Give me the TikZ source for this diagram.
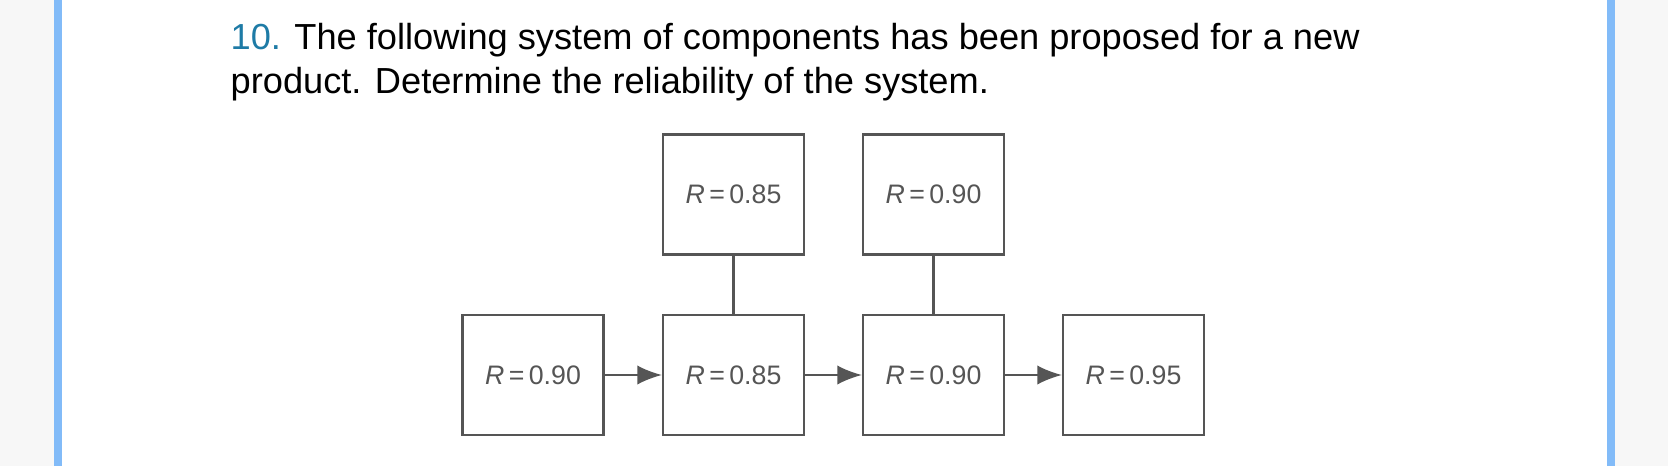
\documentclass[tikz,border=0pt]{standalone}
\usepackage{fontspec}
\setmainfont{Liberation Sans}
\usetikzlibrary{arrows.meta}
\definecolor{barblue}{HTML}{82BBF8}
\definecolor{numblue}{HTML}{1E7BA6}
\definecolor{edge}{HTML}{555555}
\begin{document}
\begin{tikzpicture}[x=0.01cm,y=-0.01cm,
  bx/.style={draw=edge,line width=0.6pt,minimum width=1.41cm,minimum height=1.20cm,inner sep=0pt,font=\fontsize{7.6}{9}\selectfont,text=edge},
  conn/.style={draw=edge,line width=0.6pt},
  arr/.style={conn,-{Latex[length=7pt,width=5.5pt]}},
  title/.style={anchor=base west,inner sep=0pt,font=\fontsize{10.3}{12}\selectfont}]
\fill[white] (0,0) rectangle (1668,466);
\useasboundingbox (0,0) rectangle (1668,466);
\fill[black!3] (0,0) rectangle (54,466);
\fill[black!3] (1615,0) rectangle (1668,466);
\fill[barblue] (54,0) rectangle (62,466);
\fill[barblue] (1607,0) rectangle (1615,466);
\node[title] (l1) at (230,49) {\textcolor{numblue}{10.} The following system of components has been proposed for a new};
\node[title] (l2) at (230,93) {product. Determine the reliability of the system.};
\node[bx] (a) at (533,375) {\textit{R}\,=\,0.90};
\node[bx] (b) at (733.5,375) {\textit{R}\,=\,0.85};
\node[bx] (c) at (933.5,375) {\textit{R}\,=\,0.90};
\node[bx] (d) at (1133.5,375) {\textit{R}\,=\,0.95};
\node[bx] (bu) at (733.5,194.5) {\textit{R}\,=\,0.85};
\node[bx] (cu) at (933.5,194.5) {\textit{R}\,=\,0.90};
\draw[arr] (a) -- (b);
\draw[arr] (b) -- (c);
\draw[arr] (c) -- (d);
\draw[conn] (bu) -- (b);
\draw[conn] (cu) -- (c);
\end{tikzpicture}
\end{document}
